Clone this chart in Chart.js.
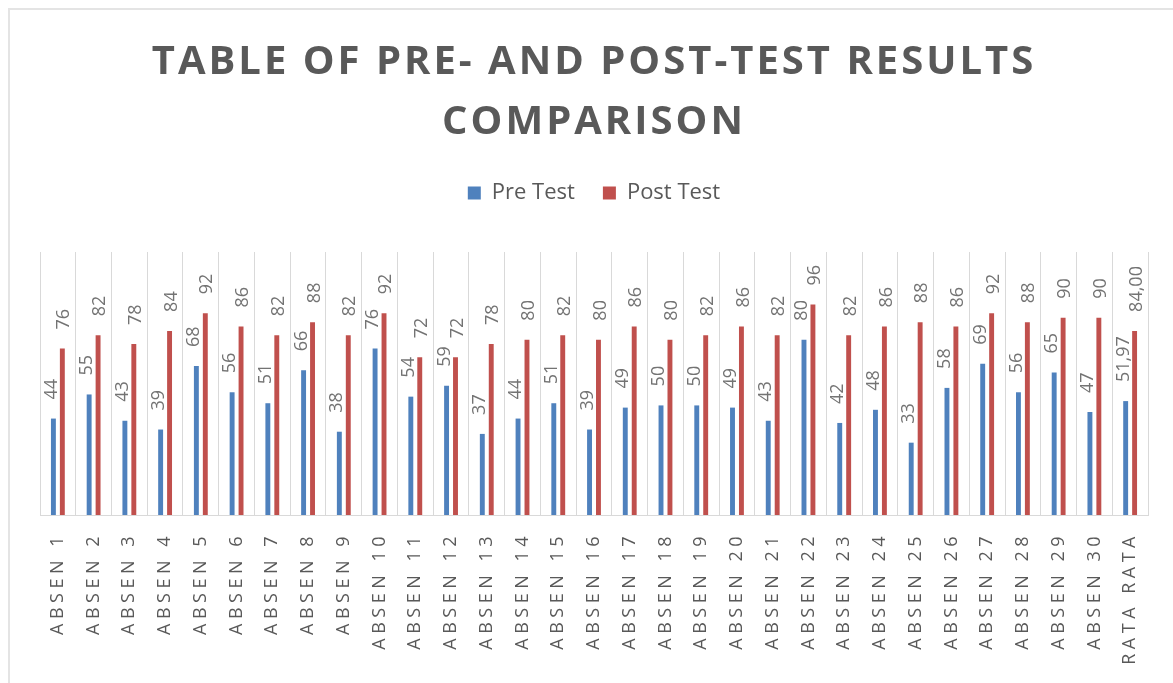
<!DOCTYPE html>
<html>
<head>
<meta charset="utf-8">
<script src="https://cdn.jsdelivr.net/npm/chart.js@4.4.1/dist/chart.umd.min.js"></script>
<style>
    html, body { margin: 0; padding: 0; background: #fff; }
    #wrap { position: absolute; left: 0; top: 0; width: 1173px; height: 683px; }
    #frame { position: absolute; left: 8px; top: 8px; right: 0; bottom: 0; border-left: 2px solid #e4e4e4; border-top: 2px solid #e4e4e4; }
    #myChart { position: absolute; left: 0; top: 0; }
</style>
</head>
<body>
<div id="wrap">
    <div id="frame"></div>
    <canvas id="myChart" width="1173" height="683"></canvas>
</div>
<script>
const categories = [
    "ABSEN 1", "ABSEN 2", "ABSEN 3", "ABSEN 4", "ABSEN 5", "ABSEN 6", "ABSEN 7", "ABSEN 8",
    "ABSEN 9", "ABSEN 10", "ABSEN 11", "ABSEN 12", "ABSEN 13", "ABSEN 14", "ABSEN 15", "ABSEN 16",
    "ABSEN 17", "ABSEN 18", "ABSEN 19", "ABSEN 20", "ABSEN 21", "ABSEN 22", "ABSEN 23", "ABSEN 24",
    "ABSEN 25", "ABSEN 26", "ABSEN 27", "ABSEN 28", "ABSEN 29", "ABSEN 30", "RATA RATA"
];
const preTest = [44, 55, 43, 39, 68, 56, 51, 66, 38, 76, 54, 59, 37, 44, 51, 39,
    49, 50, 50, 49, 43, 80, 42, 48, 33, 58, 69, 56, 65, 47, 51.97];
const postTest = [76, 82, 78, 84, 92, 86, 82, 88, 82, 92, 72, 72, 78, 80, 82, 80,
    86, 80, 82, 86, 82, 96, 82, 86, 88, 86, 92, 88, 90, 90, 84];

const averageIndex = categories.length - 1;
const tickSpacing = "4.5px";

/**
 * the average column is printed with two decimals and a comma, the rest as whole numbers
 * @param {number} value
 * @param {number} index
 */
function formatValue (value, index)
{
    if (index === averageIndex) return value.toFixed(2).replace(".", ",");
    return String(value);
}

/**
 * wraps a box's draw so its text is drawn with extra letter spacing
 */
function spaceOut (box, ctx, spacing)
{
    if (!box || box._spaced) return;
    const draw = box.draw;
    box.draw = function (...args) {
        ctx.letterSpacing = spacing;
        draw.apply(this, args);
        ctx.letterSpacing = "0px";
    };
    box._spaced = true;
}

const barLabels = {
    id: "barLabels",
    beforeInit (chart)
    {
        // extra room under the legend, before the plot starts
        const legend = chart.legend;
        const fit = legend.fit;
        legend.fit = function () {
            fit.call(this);
            this.height += 38;
        };
    },
    beforeDraw (chart)
    {
        spaceOut(chart.titleBlock, chart.ctx, "3px");
    },
    afterDatasetsDraw (chart)
    {
        const ctx = chart.ctx;
        ctx.save();
        ctx.font = "18px 'Open Sans'";
        ctx.fillStyle = "#737373";
        ctx.textAlign = "left";
        ctx.textBaseline = "middle";
        chart.data.datasets.forEach((dataset, d) => {
            const shift = d === 0 ? -2 : 2;
            chart.getDatasetMeta(d).data.forEach((bar, i) => {
                ctx.save();
                ctx.translate(bar.x + shift, bar.y - 19);
                ctx.rotate(-Math.PI / 2);
                ctx.fillText(formatValue(dataset.data[i], i), 0, 0);
                ctx.restore();
            });
        });
        ctx.restore();
        // x tick labels are drawn after this (ticks.z = 1), spaced out like the original
        ctx.letterSpacing = tickSpacing;
    },
    afterDraw (chart)
    {
        chart.ctx.letterSpacing = "0px";
    }
};

const ctx = document.getElementById("myChart");

new Chart(ctx, {
    type: "bar",
    data: {
        labels: categories,
        datasets: [
            { label: "Pre Test", data: preTest, backgroundColor: "#4f81bd", barPercentage: 0.55, categoryPercentage: 0.5 },
            { label: "Post Test", data: postTest, backgroundColor: "#c0504d", barPercentage: 0.55, categoryPercentage: 0.5 }
        ]
    },
    options: {
        responsive: false,
        animation: false,
        layout: { padding: { left: 40, right: 25, top: 8, bottom: 0 } },
        plugins: {
            title: {
                display: true,
                text: ["TABLE OF PRE- AND POST-TEST RESULTS", "COMPARISON"],
                color: "#595959",
                font: { family: "'Open Sans'", size: 40, weight: "bold", lineHeight: 1.5 },
                padding: { top: 25, bottom: 1 }
            },
            legend: {
                display: true,
                labels: {
                    color: "#595959",
                    font: { family: "'Open Sans'", size: 22 },
                    boxWidth: 13,
                    boxHeight: 13,
                    padding: 28
                }
            },
            tooltip: { enabled: false }
        },
        scales: {
            x: {
                // measure the tick labels with the same spacing they are drawn with
                beforeCalculateLabelRotation: (scale) => { scale.ctx.letterSpacing = tickSpacing; },
                afterFit: (scale) => {
                    scale.ctx.letterSpacing = "0px";
                    scale.height = 168;
                },
                grid: { display: true, offset: true, color: "#d9d9d9", drawTicks: false },
                border: { display: true, color: "#d9d9d9" },
                ticks: {
                    color: "#595959",
                    font: { family: "'Open Sans'", size: 18 },
                    minRotation: 90,
                    maxRotation: 90,
                    autoSkip: false,
                    padding: 17,
                    z: 1
                }
            },
            y: {
                display: false,
                min: 0,
                max: 120
            }
        }
    },
    plugins: [barLabels]
});
</script>
</body>
</html>
